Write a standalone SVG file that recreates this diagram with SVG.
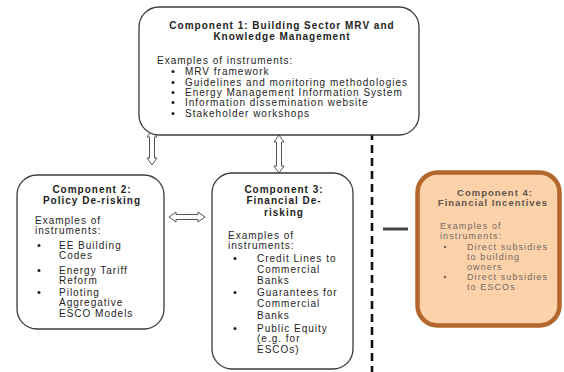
<svg xmlns="http://www.w3.org/2000/svg" width="564" height="372" viewBox="0 0 564 372">
<defs>
<style>
.box{fill:#ffffff;stroke:#3a3a3a;stroke-width:1.3}
.box4{fill:#fcd2aa;stroke:#b4672c;stroke-width:4.5}
text{font-family:"Liberation Sans",Arial,sans-serif;font-size:10px;fill:#1e1e1e;letter-spacing:1px}
.t{font-weight:bold;text-anchor:middle;letter-spacing:1px}
.g text{font-size:9px;fill:#736a64;letter-spacing:1.1px}
.g .t{font-size:9.5px;fill:#62544a;letter-spacing:1px}
.dot{fill:#1e1e1e}
.g .dot{fill:#736a64}
.arr{fill:#ffffff;stroke:#555;stroke-width:1}
</style>
</defs>
<rect width="564" height="372" fill="#ffffff"/>

<g id="connectors">
<polygon class="arr" points="152,130 157,137 154.5,137 154.5,158 157,158 152,165 147,158 149.5,158 149.5,137 147,137"/>
<polygon class="arr" points="279,135 284,142 281.5,142 281.5,166 284,166 279,173 274,166 276.5,166 276.5,142 274,142"/>
<polygon class="arr" points="169,217 176,212 176,214.5 198,214.5 198,212 205,217 198,222 198,219.5 176,219.5 176,222"/>
<line x1="372" y1="132" x2="372" y2="372" stroke="#111" stroke-width="2.6" stroke-dasharray="8,5"/>
<line x1="383" y1="229" x2="408" y2="229" stroke="#444" stroke-width="3"/>
</g>

<g id="component1">
<rect class="box" x="139" y="7" width="280" height="128" rx="20"/>
<text class="t" x="282" y="29">Component 1: Building Sector MRV and</text>
<text class="t" x="282" y="40">Knowledge Management</text>
<text x="157" y="64">Examples of instruments:</text>
<circle class="dot" cx="173" cy="71.5" r="1.5"/><text x="185" y="75">MRV framework</text>
<circle class="dot" cx="173" cy="82.5" r="1.5"/><text x="185" y="86">Guidelines and monitoring methodologies</text>
<circle class="dot" cx="173" cy="92.5" r="1.5"/><text x="185" y="96">Energy Management Information System</text>
<circle class="dot" cx="173" cy="102.5" r="1.5"/><text x="185" y="106">Information dissemination website</text>
<circle class="dot" cx="173" cy="113.5" r="1.5"/><text x="185" y="117">Stakeholder workshops</text>
</g>

<g id="component2">
<rect class="box" x="17" y="175" width="147" height="154" rx="20"/>
<text class="t" x="92" y="193">Component 2:</text>
<text class="t" x="92" y="204">Policy De-risking</text>
<text x="35" y="224">Examples of</text>
<text x="35" y="234">instruments:</text>
<circle class="dot" cx="39" cy="245.5" r="1.5"/><text x="59" y="249">EE Building</text>
<text x="59" y="259">Codes</text>
<circle class="dot" cx="39" cy="270.5" r="1.5"/><text x="59" y="274">Energy Tariff</text>
<text x="59" y="284">Reform</text>
<circle class="dot" cx="39" cy="292.5" r="1.5"/><text x="59" y="296">Piloting</text>
<text x="59" y="306">Aggregative</text>
<text x="59" y="317">ESCO Models</text>
</g>

<g id="component3">
<rect class="box" x="212" y="173" width="141" height="196" rx="20"/>
<text class="t" x="284" y="193">Component 3:</text>
<text class="t" x="284" y="204">Financial De-</text>
<text class="t" x="284" y="216">risking</text>
<text x="228" y="239">Examples of</text>
<text x="228" y="249">instruments:</text>
<circle class="dot" cx="235" cy="258.5" r="1.5"/><text x="257" y="262">Credit Lines to</text>
<text x="257" y="273">Commercial</text>
<text x="257" y="284">Banks</text>
<circle class="dot" cx="235" cy="292.5" r="1.5"/><text x="257" y="296">Guarantees for</text>
<text x="257" y="307">Commercial</text>
<text x="257" y="319">Banks</text>
<circle class="dot" cx="235" cy="328.5" r="1.5"/><text x="257" y="332">Public Equity</text>
<text x="257" y="342">(e.g. for</text>
<text x="257" y="353">ESCOs)</text>
</g>

<g id="component4" class="g">
<rect class="box4" x="417.5" y="172.5" width="142" height="153" rx="20"/>
<text class="t" x="495" y="195.5">Component 4:</text>
<text class="t" x="493" y="205.5">Financial Incentives</text>
<text x="440" y="229">Examples of</text>
<text x="440" y="239">instruments:</text>
<circle class="dot" cx="445" cy="247" r="1.3"/><text x="467" y="250">Direct subsidies</text>
<text x="467" y="260">to building</text>
<text x="467" y="270">owners</text>
<circle class="dot" cx="445" cy="277" r="1.3"/><text x="467" y="280">Direct subsidies</text>
<text x="467" y="290">to ESCOs</text>
</g>
</svg>
